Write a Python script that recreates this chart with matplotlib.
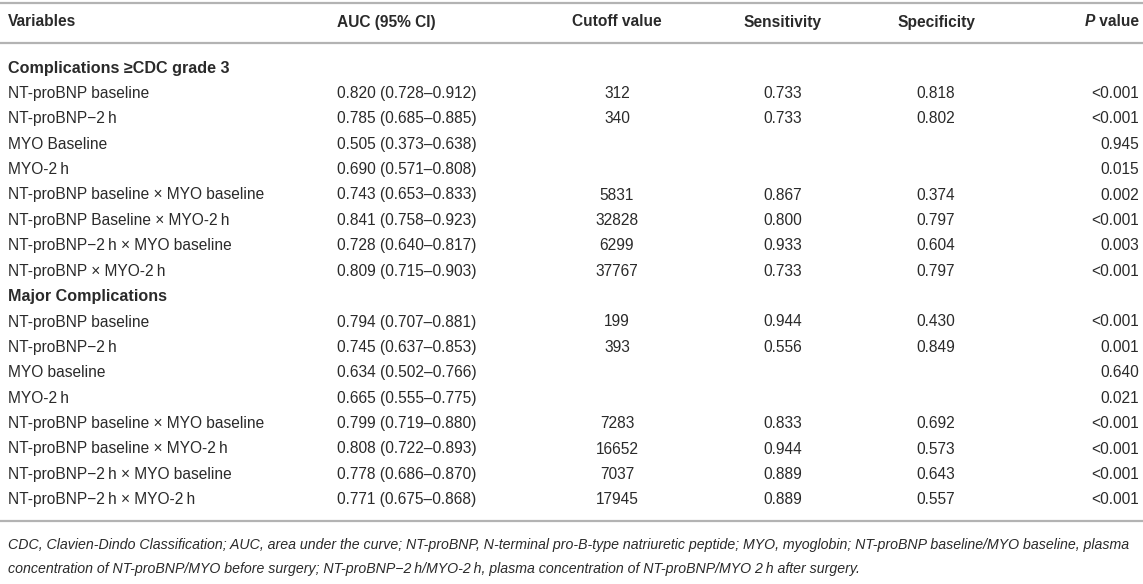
import matplotlib
matplotlib.use("Agg")
import matplotlib.pyplot as plt
from matplotlib.lines import Line2D

plt.rcParams['font.family'] = ['Liberation Sans', 'DejaVu Sans']

TS = "\u2009"
MINUS = "\u2212"

headers = ["Variables", "AUC (95% CI)", "Cutoff value", "Sensitivity", "Specificity", "value"]

section_titles = ["Complications \u2265CDC grade 3", "Major Complications"]

variables_1 = [
    "NT-proBNP baseline",
    f"NT-proBNP{MINUS}2{TS}h",
    "MYO Baseline",
    f"MYO-2{TS}h",
    "NT-proBNP baseline \u00d7 MYO baseline",
    f"NT-proBNP Baseline \u00d7 MYO-2{TS}h",
    f"NT-proBNP{MINUS}2{TS}h \u00d7 MYO baseline",
    f"NT-proBNP \u00d7 MYO-2{TS}h",
]
auc_1 = ["0.820 (0.728\u20130.912)", "0.785 (0.685\u20130.885)", "0.505 (0.373\u20130.638)",
         "0.690 (0.571\u20130.808)", "0.743 (0.653\u20130.833)", "0.841 (0.758\u20130.923)",
         "0.728 (0.640\u20130.817)", "0.809 (0.715\u20130.903)"]
cutoff_1 = ["312", "340", "", "", "5831", "32828", "6299", "37767"]
sens_1 = ["0.733", "0.733", "", "", "0.867", "0.800", "0.933", "0.733"]
spec_1 = ["0.818", "0.802", "", "", "0.374", "0.797", "0.604", "0.797"]
p_1 = ["<0.001", "<0.001", "0.945", "0.015", "0.002", "<0.001", "0.003", "<0.001"]

variables_2 = [
    "NT-proBNP baseline",
    f"NT-proBNP{MINUS}2{TS}h",
    "MYO baseline",
    f"MYO-2{TS}h",
    "NT-proBNP baseline \u00d7 MYO baseline",
    f"NT-proBNP baseline \u00d7 MYO-2{TS}h",
    f"NT-proBNP{MINUS}2{TS}h \u00d7 MYO baseline",
    f"NT-proBNP{MINUS}2{TS}h \u00d7 MYO-2{TS}h",
]
auc_2 = ["0.794 (0.707\u20130.881)", "0.745 (0.637\u20130.853)", "0.634 (0.502\u20130.766)",
         "0.665 (0.555\u20130.775)", "0.799 (0.719\u20130.880)", "0.808 (0.722\u20130.893)",
         "0.778 (0.686\u20130.870)", "0.771 (0.675\u20130.868)"]
cutoff_2 = ["199", "393", "", "", "7283", "16652", "7037", "17945"]
sens_2 = ["0.944", "0.556", "", "", "0.833", "0.944", "0.889", "0.889"]
spec_2 = ["0.430", "0.849", "", "", "0.692", "0.573", "0.643", "0.557"]
p_2 = ["<0.001", "0.001", "0.640", "0.021", "<0.001", "<0.001", "<0.001", "<0.001"]

footnote_1 = ("CDC, Clavien-Dindo Classification; AUC, area under the curve; NT-proBNP, N-terminal pro-B-type "
              "natriuretic peptide; MYO, myoglobin; NT-proBNP baseline/MYO baseline, plasma")
footnote_2 = (f"concentration of NT-proBNP/MYO before surgery; NT-proBNP{MINUS}2{TS}h/MYO-2{TS}h, plasma "
              f"concentration of NT-proBNP/MYO 2{TS}h after surgery.")

W, H = 1143, 584
fig = plt.figure(figsize=(W / 100, H / 100), dpi=100)
ax = fig.add_axes([0, 0, 1, 1])
ax.set_xlim(0, W)
ax.set_ylim(H, 0)
ax.axis("off")

TXT = "#2a2a2a"
LINE = "#b3b3b3"
FS = 11.2
FS_SEC = 11.6
FS_NOTE = 10.2

x_var = 8
x_auc = 337
x_cut = 617
x_sens = 783
x_spec = 936
x_p = 1139

def hline(y):
    ax.add_line(Line2D([0, W], [y, y], color=LINE, lw=1.6))

hline(3)
hline(43)

y_head = 22
ax.text(x_var, y_head, headers[0], fontsize=FS, fontweight="bold", color=TXT, va="center", ha="left")
ax.text(x_auc, y_head, headers[1], fontsize=FS, fontweight="bold", color=TXT, va="center", ha="left")
ax.text(x_cut, y_head, headers[2], fontsize=FS, fontweight="bold", color=TXT, va="center", ha="center")
ax.text(x_sens, y_head, headers[3], fontsize=FS, fontweight="bold", color=TXT, va="center", ha="center")
ax.text(x_spec, y_head, headers[4], fontsize=FS, fontweight="bold", color=TXT, va="center", ha="center")
tv = ax.text(x_p, y_head, " " + headers[5], fontsize=FS, fontweight="bold", color=TXT, va="center", ha="right")
fig.canvas.draw()
bb = tv.get_window_extent()
fig.text(bb.x0 / W, 1 - y_head / H, "P", fontsize=FS, fontweight="bold", fontstyle="italic",
         color=TXT, va="center", ha="right")

y0 = 68
dy = 25.4
blocks = [
    (section_titles[0], variables_1, auc_1, cutoff_1, sens_1, spec_1, p_1),
    (section_titles[1], variables_2, auc_2, cutoff_2, sens_2, spec_2, p_2),
]
row = 0
for title, vv, aa, cc, ss, sp, pp in blocks:
    y = y0 + row * dy
    ax.text(x_var, y, title, fontsize=FS_SEC, fontweight="bold", color=TXT, va="center", ha="left")
    row += 1
    for i in range(len(vv)):
        y = y0 + row * dy
        ax.text(x_var, y, vv[i], fontsize=FS, color=TXT, va="center", ha="left")
        ax.text(x_auc, y, aa[i], fontsize=FS, color=TXT, va="center", ha="left")
        ax.text(x_cut, y, cc[i], fontsize=FS, color=TXT, va="center", ha="center")
        ax.text(x_sens, y, ss[i], fontsize=FS, color=TXT, va="center", ha="center")
        ax.text(x_spec, y, sp[i], fontsize=FS, color=TXT, va="center", ha="center")
        ax.text(x_p, y, pp[i], fontsize=FS, color=TXT, va="center", ha="right")
        row += 1

y_last = y0 + (row - 1) * dy
hline(y_last + 21)
ax.text(x_var, y_last + 45, footnote_1, fontsize=FS_NOTE, fontstyle="italic", color=TXT, va="center", ha="left")
ax.text(x_var, y_last + 69, footnote_2, fontsize=FS_NOTE, fontstyle="italic", color=TXT, va="center", ha="left")

fig.savefig("out.png", dpi=100)
